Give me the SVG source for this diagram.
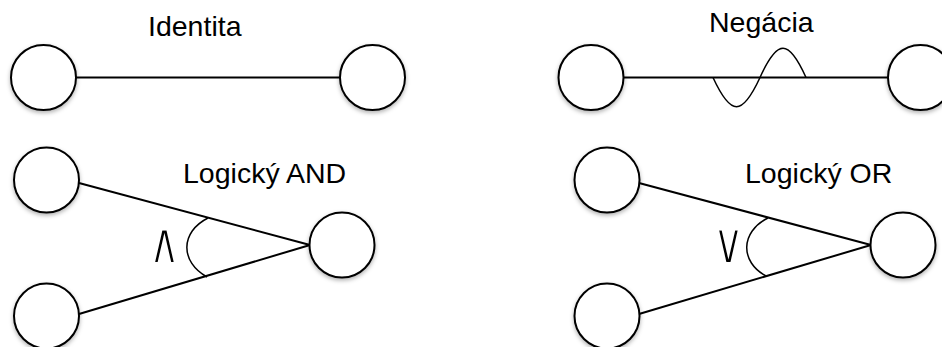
<svg xmlns="http://www.w3.org/2000/svg" width="942" height="347" viewBox="0 0 942 347">
<style>
.node{fill:#fff;stroke:#000;stroke-width:2;filter:url(#sh)}
.edge{fill:none;stroke:#000;stroke-width:2}
.thin{fill:none;stroke:#000;stroke-width:1.5}
.lbl{font-family:"Liberation Sans",Arial,sans-serif;font-size:28.5px;fill:#000}
.sym{font-family:"DejaVu Sans",sans-serif;font-size:58px;fill:#000;stroke:#fff;stroke-width:2}
</style>
<defs>
<filter id="sh" x="-30%" y="-30%" width="160%" height="170%">
<feDropShadow dx="0" dy="2" stdDeviation="2" flood-color="#000" flood-opacity="0.3"/>
</filter>
</defs>
<rect width="942" height="347" fill="#fff"/>
<g id="connectors">
<line class="edge" x1="76" y1="77.5" x2="340" y2="77.5"/>
<line class="edge" x1="623" y1="77.5" x2="888" y2="77.5"/>
<path class="thin" d="M713,77.5 C731,116.5 742,116.5 760,77.5 C777.5,38.5 788.5,38.5 806,77.5"/>
<line class="edge" x1="79" y1="183" x2="310" y2="245"/>
<line class="edge" x1="79" y1="314" x2="310" y2="245"/>
<path class="thin" d="M208,218 C180,232 180,262 207,277"/>
<line class="edge" x1="639" y1="183" x2="871" y2="245"/>
<line class="edge" x1="639" y1="314" x2="871" y2="245"/>
<path class="thin" d="M768,218 C740,232 740,262 766,276"/>
</g>
<g id="id-a"><circle class="node" cx="43.5" cy="77.5" r="32.5"/></g>
<g id="id-b"><circle class="node" cx="372.5" cy="77.5" r="32.5"/></g>
<g id="neg-a"><circle class="node" cx="591" cy="77.5" r="32.5"/></g>
<g id="neg-b"><circle class="node" cx="920.5" cy="77.5" r="32.5"/></g>
<g id="and-a"><circle class="node" cx="46.5" cy="180" r="32.5"/></g>
<g id="and-b"><circle class="node" cx="46.5" cy="316" r="32.5"/></g>
<g id="and-c"><circle class="node" cx="342" cy="245" r="32.5"/></g>
<g id="or-a"><circle class="node" cx="607" cy="180" r="32.5"/></g>
<g id="or-b"><circle class="node" cx="607" cy="316" r="32.5"/></g>
<g id="or-c"><circle class="node" cx="903" cy="245" r="32.5"/></g>
<g id="labels">
<text class="lbl" x="148" y="36">Identita</text>
<text class="lbl" x="709" y="32">Negácia</text>
<text class="lbl" x="183" y="183">Logický AND</text>
<text class="lbl" x="745" y="183">Logický OR</text>
<text class="sym" transform="translate(164.5,263) scale(0.75,1)" text-anchor="middle">∧</text>
<text class="sym" transform="translate(728.5,263) scale(0.75,1)" text-anchor="middle">∨</text>
</g>
</svg>
